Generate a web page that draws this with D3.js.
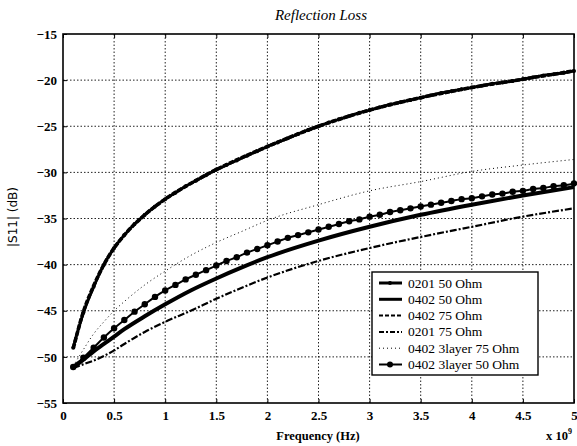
<!DOCTYPE html>
<html>
<head>
<meta charset="utf-8">
<script src="https://cdn.jsdelivr.net/npm/d3@7"></script>
<style>
body { margin: 0; background: #fff; }
svg { display: block; }
</style>
</head>
<body>
<svg></svg>
<script>
// data (frequency in GHz, |S11| in dB)
var fineFreq = [0.1,0.2,0.3,0.4,0.5,0.6,0.7,0.8,0.9,1.0,
  1.1,1.2,1.3,1.4,1.5,1.6,1.7,1.8,1.9,2.0,
  2.1,2.2,2.3,2.4,2.5,2.6,2.7,2.8,2.9,3.0,
  3.1,3.2,3.3,3.4,3.5,3.6,3.7,3.8,3.9,4.0,
  4.1,4.2,4.3,4.4,4.5,4.6,4.7,4.8,4.9,5.0];
var coarseFreq = [0.1,0.2,0.3,0.4,0.5,0.6,0.8,1,1.25,1.5,1.75,2,2.5,3,3.5,4,4.5,5];

var s0201_50 = [-49.0,-45.2,-42.4,-40.0,-38.2,-36.8,-35.6,-34.6,-33.7,-32.9,
  -32.2,-31.5,-30.9,-30.3,-29.7,-29.2,-28.7,-28.2,-27.7,-27.2,
  -26.75,-26.3,-25.85,-25.4,-25.0,-24.6,-24.25,-23.9,-23.55,-23.25,
  -22.95,-22.65,-22.4,-22.15,-21.9,-21.65,-21.4,-21.2,-21.0,-20.8,
  -20.6,-20.4,-20.25,-20.1,-19.9,-19.7,-19.5,-19.35,-19.2,-19.0];
var s0402_50 = [-51.1,-50.3,-49.4,-48.6,-47.8,-47.0,-45.6,-44.3,-42.8,-41.5,-40.3,-39.2,-37.4,-35.9,-34.6,-33.5,-32.5,-31.6];
var s0402_75 = [-49.1,-45.1,-42.3,-40.0,-38.2,-36.8,-34.6,-32.9,-31.2,-29.7,-28.4,-27.2,-25.0,-23.25,-21.9,-20.8,-19.9,-19.0];
var s0201_75 = [-51.2,-50.8,-50.4,-49.9,-49.3,-48.6,-47.3,-46.2,-45.0,-43.7,-42.5,-41.4,-39.6,-38.2,-37.0,-35.9,-34.8,-33.9];
var s3layer_75 = [-51.0,-49.2,-47.5,-46.2,-45.0,-44.0,-42.2,-40.7,-39.0,-37.6,-36.4,-35.2,-33.5,-32.0,-31.0,-29.9,-29.2,-28.6];
var s3layer_50 = [-51.1,-50.1,-49.0,-47.9,-46.9,-46.0,-45.1,-44.3,-43.5,-42.8,
  -42.2,-41.6,-41.1,-40.6,-40.1,-39.6,-39.2,-38.7,-38.3,-37.9,
  -37.5,-37.1,-36.8,-36.5,-36.2,-35.9,-35.6,-35.3,-35.1,-34.8,
  -34.6,-34.3,-34.1,-33.9,-33.7,-33.5,-33.3,-33.1,-32.9,-32.8,
  -32.6,-32.4,-32.3,-32.1,-32.0,-31.8,-31.7,-31.5,-31.4,-31.2];

var xTicks = [0,0.5,1,1.5,2,2.5,3,3.5,4,4.5,5];
var yTicks = [-55,-50,-45,-40,-35,-30,-25,-20,-15];
var legendNames = ["0201 50 Ohm","0402 50 Ohm","0402 75 Ohm","0201 75 Ohm","0402 3layer 75 Ohm","0402 3layer 50 Ohm"];

var width = 577, height = 446;
var pLeft = 63, pRight = 574, pTop = 34, pBottom = 403;
var serif = "'Liberation Serif', 'Times New Roman', 'DejaVu Serif', serif";

var svg = d3.select("svg").attr("width", width).attr("height", height);

var x = d3.scaleLinear().domain([0, 5]).range([pLeft, pRight]);
var y = d3.scaleLinear().domain([-55, -15]).range([pBottom, pTop]);

// grid
var grid = svg.append("g")
  .attr("stroke", "#222")
  .attr("stroke-width", 1)
  .attr("stroke-dasharray", "1.5,2");
grid.selectAll(".vg").data(xTicks.slice(1, -1)).enter().append("line")
  .attr("x1", d => x(d)).attr("x2", d => x(d))
  .attr("y1", pTop).attr("y2", pBottom);
grid.selectAll(".hg").data(yTicks.slice(1, -1)).enter().append("line")
  .attr("x1", pLeft).attr("x2", pRight)
  .attr("y1", d => y(d)).attr("y2", d => y(d));

// axes (ticks inward)
var tickFont = function(g) {
  g.attr("font-family", null);
  g.selectAll("text")
    .style("font-family", serif)
    .style("font-weight", "bold")
    .style("font-size", "13px")
    .attr("fill", "#000");
  g.select(".domain").remove();
  g.selectAll("line").attr("stroke", "#000");
};

svg.append("g")
  .attr("transform", "translate(0," + pBottom + ")")
  .call(d3.axisBottom(x).tickValues(xTicks).tickSize(-4).tickPadding(8)
    .tickFormat(d => d === 0 ? "0" : d3.format("~g")(d)))
  .call(tickFont);
svg.append("g")
  .attr("transform", "translate(0," + pTop + ")")
  .call(d3.axisTop(x).tickValues(xTicks).tickSize(-4).tickFormat(""))
  .call(tickFont);
svg.append("g")
  .attr("transform", "translate(" + pLeft + ",0)")
  .call(d3.axisLeft(y).tickValues(yTicks).tickSize(-4).tickPadding(6))
  .call(tickFont);

// frame
svg.append("rect")
  .attr("x", pLeft).attr("y", pTop)
  .attr("width", pRight - pLeft).attr("height", pBottom - pTop)
  .attr("fill", "none").attr("stroke", "#000").attr("stroke-width", 1.6);

// curves
var line = function(xs) {
  return d3.line()
    .x((d, i) => x(xs[i]))
    .y(d => y(d))
    .curve(d3.curveMonotoneX);
};

var plot = svg.append("g").attr("fill", "none").attr("stroke", "#000");

plot.append("path").datum(s0201_75).attr("d", line(coarseFreq))
  .attr("stroke-width", 2.2).attr("stroke-dasharray", "7,2,2,2");
plot.append("path").datum(s3layer_75).attr("d", line(coarseFreq))
  .attr("stroke-width", 1).attr("stroke-dasharray", "1,3");
plot.append("path").datum(s0402_50).attr("d", line(coarseFreq))
  .attr("stroke-width", 4);
plot.append("path").datum(s3layer_50).attr("d", line(fineFreq))
  .attr("stroke-width", 2);
plot.append("path").datum(s0201_50).attr("d", line(fineFreq))
  .attr("stroke-width", 3);
plot.append("path").datum(s0402_75).attr("d", line(coarseFreq))
  .attr("stroke-width", 3.6).attr("stroke-dasharray", "5,1.5");

svg.append("g").selectAll("circle").data(s3layer_50).enter().append("circle")
  .attr("cx", (d, i) => x(fineFreq[i]))
  .attr("cy", d => y(d))
  .attr("r", 3.2)
  .attr("fill", "#000");
svg.append("g").selectAll("circle").data(s0201_50).enter().append("circle")
  .attr("cx", (d, i) => x(fineFreq[i]))
  .attr("cy", d => y(d))
  .attr("r", 2)
  .attr("fill", "#000");

// labels
svg.append("text")
  .attr("x", 321).attr("y", 20)
  .attr("text-anchor", "middle")
  .style("font-family", serif)
  .style("font-style", "italic")
  .style("font-size", "15px")
  .text("Reflection Loss");

svg.append("text")
  .attr("transform", "translate(17,217) rotate(-90)")
  .attr("text-anchor", "middle")
  .style("font-family", "'DejaVu Sans', sans-serif")
  .style("font-size", "12px")
  .text("|S11| (dB)");

svg.append("text")
  .attr("x", 318).attr("y", 440)
  .attr("text-anchor", "middle")
  .style("font-family", serif)
  .style("font-weight", "bold")
  .style("font-size", "12.5px")
  .text("Frequency (Hz)");

var expo = svg.append("text")
  .attr("x", 546).attr("y", 440)
  .style("font-family", serif)
  .style("font-weight", "bold")
  .style("font-size", "12.5px");
expo.append("tspan").text("x 10");
expo.append("tspan").attr("dy", -6).style("font-size", "8px").text("9");

// legend
var lg = svg.append("g").attr("transform", "translate(372,272)");
lg.append("rect")
  .attr("width", 166).attr("height", 103)
  .attr("fill", "#fff").attr("stroke", "#000").attr("stroke-width", 1.4);

var legendStyle = [
  {w: 3, dash: null, dot: 2},
  {w: 3, dash: null, dot: 0},
  {w: 2, dash: "4,2", dot: 0},
  {w: 2, dash: "5,2,2,2", dot: 0},
  {w: 1, dash: "1,3", dot: 0},
  {w: 2, dash: null, dot: 3}
];
var rows = lg.selectAll(".row").data(legendNames).enter().append("g")
  .attr("transform", (d, i) => "translate(0," + (11 + i * 16.3) + ")");
rows.append("line")
  .attr("x1", 7).attr("x2", 30)
  .attr("stroke", "#000")
  .attr("stroke-width", (d, i) => legendStyle[i].w)
  .attr("stroke-dasharray", (d, i) => legendStyle[i].dash);
rows.filter((d, i) => legendStyle[i].dot > 0).append("circle")
  .attr("cx", 18).attr("r", d => legendStyle[legendNames.indexOf(d)].dot)
  .attr("fill", "#000");
rows.append("text")
  .attr("x", 36).attr("y", 4.5)
  .style("font-family", serif)
  .style("font-size", "13.5px")
  .text(d => d);
</script>
</body>
</html>
